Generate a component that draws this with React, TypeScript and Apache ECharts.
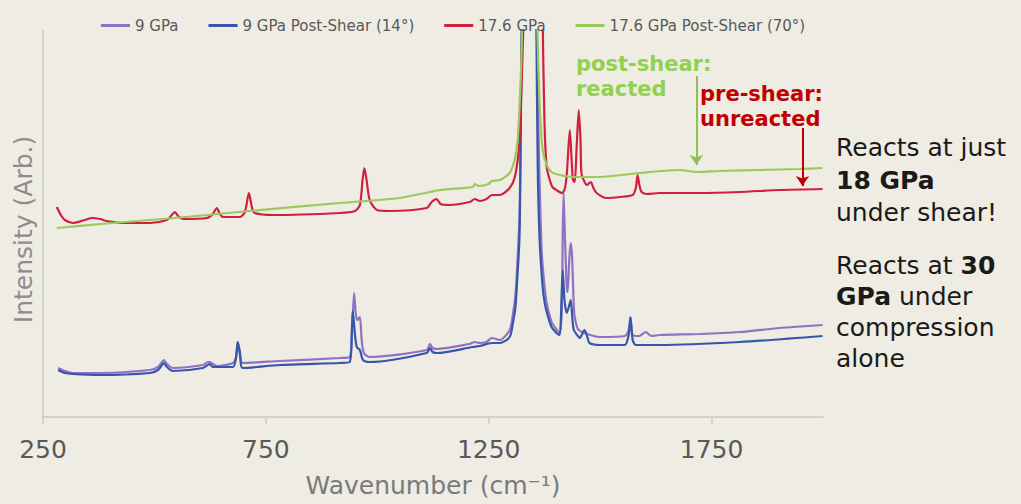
import React, { useEffect, useRef } from "react";
import * as echarts from "echarts";

const seriesNames = ["9 GPa", "9 GPa Post-Shear (14°)", "17.6 GPa", "17.6 GPa Post-Shear (70°)"];
const seriesColors = ["#8f72c4", "#3556aa", "#d11f3e", "#9cc95c"];
const xTicks = [250, 750, 1250, 1750];

// 9 GPa
const purpleWn = [284, 299, 317, 378, 490, 508, 517, 521, 528, 541, 609, 620, 624, 631, 640, 676, 683, 687, 692, 698, 781, 916, 938, 943, 948, 952, 956, 961, 965, 970, 983, 1111, 1118, 1124, 1133, 1207, 1219, 1230, 1245, 1257, 1275, 1297, 1305, 1310, 1315, 1319, 1321, 1324, 1332, 1343, 1352, 1358, 1361, 1364, 1369, 1375, 1380, 1391, 1398, 1409, 1414, 1416, 1418, 1421, 1425, 1427, 1431, 1434, 1437, 1441, 1443, 1450, 1465, 1499, 1555, 1564, 1568, 1573, 1588, 1602, 1615, 1633, 1723, 1813, 1902, 1999];
const purpleInt = [49, 46, 44, 44, 47, 50, 55, 57, 53, 49, 52, 55, 55, 53, 51, 54, 60, 75, 65, 54, 56, 59, 60, 82, 124, 102, 97, 100, 77, 64, 60, 67, 73, 69, 68, 73, 75, 74, 75, 79, 77, 87, 105, 122, 160, 200, 260, 390, 700, 900, 700, 390, 300, 237, 164, 132, 114, 95, 90, 84, 107, 180, 224, 180, 130, 125, 160, 174, 160, 110, 100, 88, 84, 80, 81, 87, 99, 82, 81, 85, 81, 82, 83, 85, 89, 92];

// 9 GPa Post-Shear (14°)
const blueWn = [284, 299, 317, 378, 490, 508, 517, 521, 528, 541, 609, 624, 631, 676, 683, 687, 692, 698, 781, 916, 938, 943, 945, 950, 954, 961, 968, 983, 1111, 1118, 1124, 1133, 1214, 1230, 1257, 1275, 1297, 1305, 1310, 1315, 1319, 1321, 1324, 1332, 1343, 1351, 1357, 1360, 1364, 1371, 1376, 1382, 1391, 1402, 1409, 1412, 1416, 1420, 1425, 1429, 1434, 1438, 1441, 1450, 1454, 1465, 1472, 1476, 1499, 1555, 1564, 1568, 1573, 1580, 1633, 1813, 1999];
const blueInt = [47, 44, 43, 42, 44, 47, 52, 54, 50, 46, 49, 53, 50, 50, 59, 75, 62, 49, 52, 54, 55, 87, 106, 82, 70, 67, 57, 55, 64, 69, 65, 64, 70, 71, 74, 74, 80, 96, 110, 145, 180, 240, 390, 700, 900, 700, 390, 250, 180, 130, 113, 102, 90, 84, 82, 100, 147, 117, 104, 109, 117, 97, 87, 81, 79, 87, 79, 74, 72, 72, 82, 100, 77, 72, 72, 75, 81];

// 17.6 GPa
const redWn = [281, 290, 299, 317, 344, 360, 378, 393, 429, 490, 528, 539, 546, 553, 564, 618, 631, 640, 647, 654, 692, 703, 712, 719, 725, 766, 916, 950, 961, 967, 971, 976, 983, 999, 1028, 1111, 1122, 1133, 1142, 1162, 1207, 1219, 1230, 1245, 1257, 1275, 1297, 1308, 1315, 1319, 1324, 1328, 1335, 1345, 1355, 1363, 1371, 1375, 1380, 1387, 1393, 1405, 1414, 1420, 1425, 1432, 1436, 1439, 1443, 1447, 1452, 1456, 1458, 1465, 1470, 1479, 1485, 1492, 1514, 1544, 1573, 1580, 1584, 1588, 1593, 1606, 1633, 1723, 1813, 1902, 1999];
const redInt = [210, 202, 197, 194, 197, 199, 198, 196, 194, 194, 197, 202, 205, 201, 198, 199, 203, 209, 203, 200, 200, 205, 224, 209, 204, 202, 204, 206, 212, 237, 249, 237, 217, 207, 206, 209, 215, 218, 213, 212, 215, 218, 216, 218, 222, 222, 229, 239, 257, 277, 337, 400, 700, 950, 950, 700, 400, 297, 250, 237, 230, 226, 224, 227, 242, 287, 257, 237, 235, 267, 307, 277, 244, 235, 232, 235, 229, 224, 219, 220, 222, 229, 242, 232, 225, 223, 224, 224, 225, 227, 228];

// 17.6 GPa Post-Shear (70°)
const greenWn = [281, 378, 546, 714, 916, 1050, 1118, 1140, 1214, 1219, 1228, 1250, 1257, 1275, 1297, 1308, 1315, 1320, 1324, 1330, 1340, 1347, 1353, 1358, 1364, 1371, 1380, 1391, 1409, 1443, 1499, 1588, 1678, 1718, 1768, 1857, 1947, 1999];
const greenInt = [189, 193, 199, 206, 214, 219, 225, 227, 230, 233, 231, 233, 236, 237, 244, 257, 277, 320, 370, 560, 850, 900, 700, 420, 317, 267, 252, 245, 242, 240, 240, 244, 247, 245, 246, 247, 248, 249];

const zip = (xs: number[], ys: number[]) => xs.map((x, i) => [x, ys[i]]);

const FONT = "DejaVu Sans";

export default function App() {
  const ref = useRef<HTMLDivElement>(null);
  useEffect(() => {
    if (!ref.current) return;
    const chart = echarts.init(ref.current, undefined, { renderer: "svg" });
    const mk = (i: number, data: number[][], extra: any = {}) => ({
      name: seriesNames[i],
      type: "line",
      data,
      symbol: "none",
      smooth: 0.25,
      clip: true,
      lineStyle: { color: seriesColors[i], width: 2.2 },
      itemStyle: { color: seriesColors[i] },
      ...extra,
    });
    chart.setOption({
      animation: false,
      backgroundColor: "#EEECE3",
      textStyle: { fontFamily: FONT },
      legend: {
        top: 13,
        left: 96,
        icon: "rect",
        itemWidth: 29,
        itemHeight: 3,
        itemGap: 30,
        textStyle: { fontSize: 15, color: "#595959", fontFamily: FONT },
        data: seriesNames,
      },
      grid: { left: 43, right: 198, top: 30, bottom: 87 },
      xAxis: {
        type: "value",
        min: 250,
        max: 2000,
        name: "Wavenumber (cm⁻¹)",
        nameLocation: "middle",
        nameGap: 56,
        nameTextStyle: { fontSize: 25, color: "#7a7a7a", fontFamily: FONT },
        axisLine: { lineStyle: { color: "#c8c8c8", width: 1.5 } },
        axisTick: { customValues: xTicks, length: 7, lineStyle: { color: "#c8c8c8", width: 1.5 } },
        axisLabel: {
          customValues: xTicks,
          fontSize: 25,
          color: "#595959",
          margin: 20,
          fontFamily: FONT,
          formatter: (v: number) => String(v),
        },
        splitLine: { show: false },
      },
      yAxis: {
        type: "value",
        min: 0,
        max: 387,
        name: "Intensity (Arb.)",
        nameLocation: "middle",
        nameGap: 7,
        nameTextStyle: { fontSize: 25, color: "#8c8c8c", fontFamily: FONT, padding: [0, 0, 0, -12] },
        axisLine: { show: true, lineStyle: { color: "#c8c8c8", width: 1.5 } },
        axisTick: { show: false },
        axisLabel: { show: false },
        splitLine: { show: false },
      },
      series: [
        mk(0, zip(purpleWn, purpleInt)),
        mk(1, zip(blueWn, blueInt)),
        mk(2, zip(redWn, redInt), {
          markLine: {
            silent: true,
            symbol: ["none", "arrow"],
            symbolSize: 10,
            label: { show: false },
            lineStyle: { color: "#c00000", width: 2, type: "solid" },
            data: [[{ coord: [1954, 289] }, { coord: [1954, 231] }]],
          },
        }),
        mk(3, zip(greenWn, greenInt), {
          markLine: {
            silent: true,
            symbol: ["none", "arrow"],
            symbolSize: 10,
            label: { show: false },
            lineStyle: { color: "#92c050", width: 2, type: "solid" },
            data: [[{ coord: [1716, 341] }, { coord: [1716, 252] }]],
          },
        }),
      ],
      graphic: [
        {
          type: "text",
          x: 576,
          y: 51,
          style: {
            text: "post-shear:\nreacted",
            fill: "#92d050",
            fontSize: 21,
            fontWeight: "bold",
            fontFamily: FONT,
            lineHeight: 25,
          },
        },
        {
          type: "text",
          x: 700,
          y: 81,
          style: {
            text: "pre-shear:\nunreacted",
            fill: "#c00000",
            fontSize: 21,
            fontWeight: "bold",
            fontFamily: FONT,
            lineHeight: 25,
          },
        },
        ...[
          ["Reacts at just", 147],
          ["{b|18 GPa}", 180],
          ["under shear!", 212],
          ["Reacts at {b|30}", 265],
          ["{b|GPa} under", 296],
          ["compression", 327],
          ["alone", 358],
        ].map(([t, y]) => ({
          type: "text",
          x: 836,
          y: y as number,
          style: {
            text: t as string,
            fill: "#1a1a1a",
            fontSize: 25,
            fontFamily: FONT,
            verticalAlign: "middle",
            rich: { b: { fontSize: 25, fontWeight: "bold", fill: "#1a1a1a", fontFamily: FONT } },
          },
        })),
      ],
    });
    return () => chart.dispose();
  }, []);
  return <div ref={ref} style={{ position: "absolute", left: 0, top: 0, width: 1021, height: 504 }} />;
}
